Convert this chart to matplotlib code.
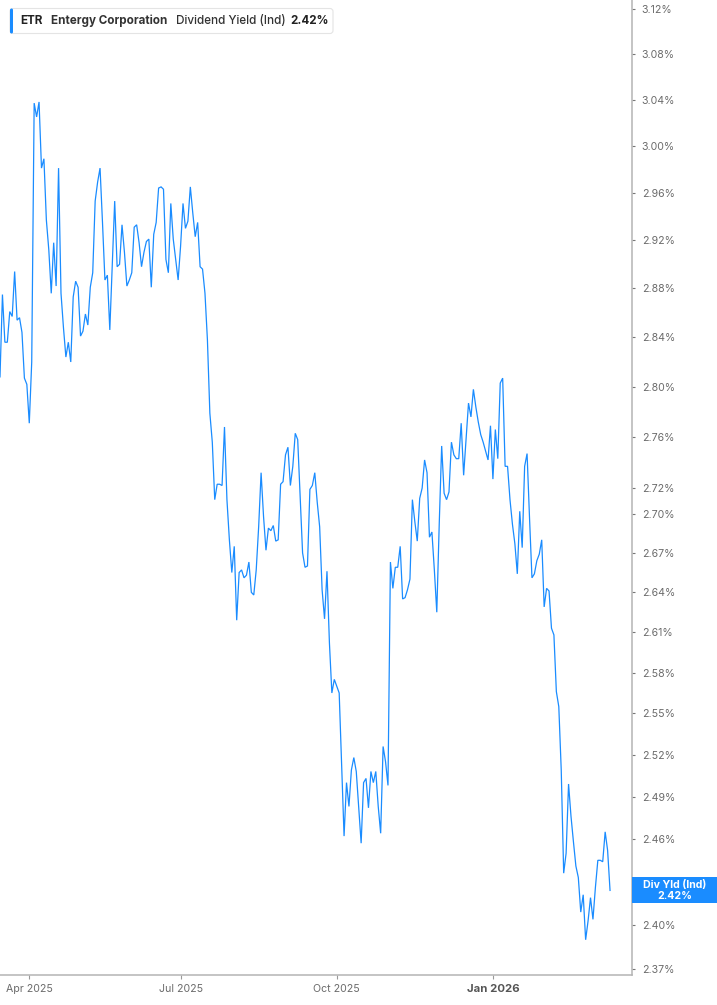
import matplotlib
matplotlib.use("Agg")
import matplotlib.pyplot as plt
from matplotlib.patches import FancyBboxPatch, Rectangle
from matplotlib.ticker import NullLocator
import numpy as np
import pandas as pd

# exchange closures inside the window
holidays = ["2025-04-18", "2025-05-26", "2025-06-19", "2025-07-04", "2025-09-01",
            "2025-11-27", "2025-12-25", "2026-01-01", "2026-01-19", "2026-02-16"]

# ETR dividend yield (indicated), %, one value per session from 2025-03-14
div_yield = [
    2.808, 2.875, 2.836, 2.836, 2.861, 2.857, 2.894, 2.854, 2.856, 2.844,
    2.807, 2.802, 2.771, 2.820, 3.037, 3.025, 3.038, 2.981, 2.989, 2.937,
    2.912, 2.876, 2.918, 2.882, 2.981, 2.876, 2.848, 2.824, 2.836, 2.820,
    2.873, 2.886, 2.881, 2.841, 2.845, 2.859, 2.850, 2.881, 2.893, 2.953,
    2.969, 2.981, 2.935, 2.887, 2.891, 2.846, 2.898, 2.953, 2.898, 2.900,
    2.933, 2.910, 2.882, 2.887, 2.893, 2.931, 2.933, 2.918, 2.898, 2.910,
    2.919, 2.921, 2.881, 2.925, 2.935, 2.964, 2.965, 2.963, 2.904, 2.893,
    2.951, 2.921, 2.904, 2.887, 2.915, 2.951, 2.930, 2.936, 2.965, 2.943,
    2.923, 2.935, 2.898, 2.896, 2.876, 2.838, 2.779, 2.756, 2.711, 2.723,
    2.723, 2.722, 2.768, 2.711, 2.680, 2.655, 2.675, 2.619, 2.655, 2.657,
    2.651, 2.653, 2.663, 2.640, 2.638, 2.657, 2.690, 2.732, 2.698, 2.672,
    2.689, 2.687, 2.691, 2.679, 2.680, 2.723, 2.725, 2.746, 2.752, 2.722,
    2.737, 2.763, 2.758, 2.713, 2.670, 2.659, 2.660, 2.719, 2.722, 2.732,
    2.709, 2.690, 2.642, 2.620, 2.656, 2.602, 2.565, 2.575, 2.570, 2.565,
    2.514, 2.462, 2.500, 2.483, 2.509, 2.518, 2.508, 2.482, 2.457, 2.500,
    2.503, 2.482, 2.508, 2.500, 2.508, 2.483, 2.464, 2.526, 2.515, 2.498,
    2.663, 2.643, 2.659, 2.659, 2.675, 2.635, 2.636, 2.642, 2.650, 2.711,
    2.694, 2.679, 2.712, 2.720, 2.742, 2.732, 2.682, 2.686, 2.657, 2.625,
    2.692, 2.753, 2.716, 2.711, 2.717, 2.756, 2.746, 2.743, 2.743, 2.771,
    2.730, 2.759, 2.787, 2.776, 2.798, 2.784, 2.772, 2.762, 2.756, 2.749,
    2.742, 2.769, 2.727, 2.766, 2.743, 2.803, 2.807, 2.737, 2.737, 2.711,
    2.692, 2.677, 2.654, 2.702, 2.674, 2.737, 2.747, 2.697, 2.651, 2.654,
    2.664, 2.669, 2.680, 2.629, 2.643, 2.641, 2.613, 2.608, 2.566, 2.555,
    2.509, 2.436, 2.450, 2.499, 2.476, 2.458, 2.441, 2.433, 2.409, 2.421,
    2.390, 2.403, 2.419, 2.404, 2.426, 2.445, 2.445, 2.444, 2.465, 2.452, 2.424,
]

y_ticks = [3.12, 3.08, 3.04, 3.00, 2.96, 2.92, 2.88, 2.84, 2.80, 2.76, 2.72,
           2.70, 2.67, 2.64, 2.61, 2.58, 2.55, 2.52, 2.49, 2.46, 2.40, 2.37]
x_tick_months = ["2025-04-01", "2025-07-01", "2025-10-01", "2026-01-01"]

ticker = "ETR"
company = "Entergy Corporation"
metric = "Dividend Yield (Ind)"
short_metric = "Div Yld (Ind)"

blue = "#1a8cff"
grey_txt = "#6b6b6b"

plt.rcParams['font.family'] = ['Inter', 'DejaVu Sans']

sessions = pd.bdate_range("2025-03-14", periods=300, freq="C", holidays=holidays)
dates = sessions[:len(div_yield)]
x = np.arange(len(dates))
last = div_yield[-1]

W, H = 717, 1005
fig = plt.figure(figsize=(W / 100, H / 100), dpi=100)
ax = fig.add_axes([0, 30 / H, 632 / W, 975 / H])

ax.plot(x, div_yield, color=blue, lw=0.9, solid_joinstyle='miter')

ax.set_yscale('log')
ax.set_ylim(2.366, 3.128)
ax.set_xlim(0, 259)

ax.yaxis.tick_right()
ax.set_yticks(y_ticks, labels=["{:.2f}%".format(v) for v in y_ticks])
ax.yaxis.set_minor_locator(NullLocator())

xt = [int(np.argmax(dates >= pd.Timestamp(d))) for d in x_tick_months]
ax.set_xticks(xt, labels=[dates[i].strftime("%b %Y") for i in xt])
ax.xaxis.set_minor_locator(NullLocator())

for side in ['left', 'top']:
    ax.spines[side].set_visible(False)
for side in ['right', 'bottom']:
    ax.spines[side].set_color('#b4b4b4')
    ax.spines[side].set_linewidth(1.1)

ax.tick_params(axis='y', which='major', length=2.5, width=0.8, color='#777777',
               pad=4.5, labelsize=7.6, labelcolor=grey_txt)
ax.tick_params(axis='x', which='major', length=3, width=0.8, color='#999999',
               pad=3.5, labelsize=7.6, labelcolor=grey_txt)
for lab in ax.get_xticklabels():
    if lab.get_text().startswith("Jan"):
        lab.set_fontweight('bold')
        lab.set_color('#555555')
        lab.set_fontsize(8.2)

# overlay in pixel units for the header and last-value tag
ov = fig.add_axes([0, 0, 1, 1], zorder=5)
ov.set_xlim(0, W)
ov.set_ylim(H, 0)
ov.axis('off')

ov.add_patch(FancyBboxPatch((10, 8.5), 323, 25, boxstyle="round,pad=0,rounding_size=3",
                            fc='white', ec='#e4e4e4', lw=0.8))
ov.add_patch(FancyBboxPatch((10, 8.5), 3, 25, boxstyle="round,pad=0,rounding_size=1.5",
                            fc=blue, ec='none'))
ov.text(20.5, 21, ticker, fontsize=8.4, fontweight='bold', color='#222222', va='center')
ov.text(51, 21, company, fontsize=8.4, fontweight='bold', color='#333333', va='center')
ov.text(176, 21, metric, fontsize=8.4, fontweight='medium', color='#333333', va='center')
ov.text(290.5, 21, "{:.2f}%".format(last), fontsize=8.4, fontweight='bold',
        color='#222222', va='center')

ov.add_patch(Rectangle((632, 877), 85, 26, fc=blue, ec='none'))
ov.text(675, 884.5, short_metric, fontsize=7.6, fontweight='bold', color='white',
        ha='center', va='center')
ov.text(675, 895.5, "{:.2f}%".format(last), fontsize=7.6, fontweight='bold', color='white',
        ha='center', va='center')

fig.savefig("out.png", dpi=100)
